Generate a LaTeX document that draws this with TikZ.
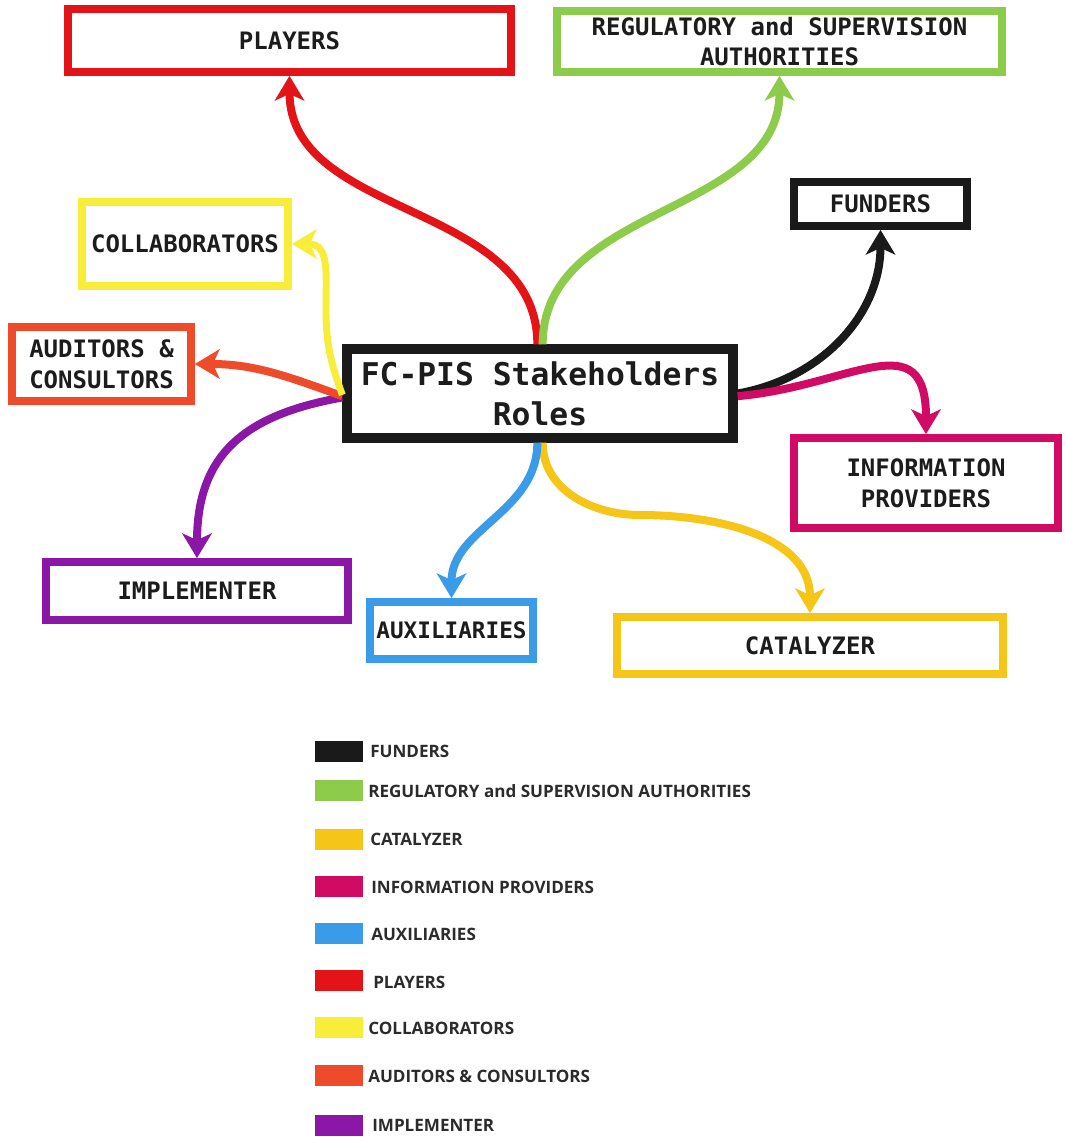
\documentclass[tikz,border=0pt]{standalone}
\usepackage{fontspec}
\setmainfont{Open Sans}
\newfontfamily\boxfont{DejaVu Sans Mono}
\usetikzlibrary{arrows.meta}
\definecolor{cRed}{HTML}{E31317}
\definecolor{cGreen}{HTML}{8DCB4B}
\definecolor{cBlack}{HTML}{1A1A1A}
\definecolor{cMagenta}{HTML}{D10A64}
\definecolor{cBlue}{HTML}{3A9BE8}
\definecolor{cGold}{HTML}{F5C518}
\definecolor{cYellow}{HTML}{F8EE3A}
\definecolor{cOrange}{HTML}{EE4B2B}
\definecolor{cPurple}{HTML}{8B17A6}
\definecolor{textdark}{HTML}{1C1C1C}
\definecolor{legdark}{HTML}{2B2B2B}
\begin{document}
\begin{tikzpicture}[x=0.75pt,y=-0.75pt,
  rolebox/.style={draw=#1, line width=5.8pt, inner sep=0pt, align=center, text=textdark,
    font=\boxfont\bfseries\fontsize{18}{23}\selectfont},
  sz/.style 2 args={minimum width=#1*0.75pt, minimum height=#2*0.75pt},
  centerbox/.style={draw=cBlack, line width=7pt, inner sep=0pt, align=center, text=textdark,
    font=\boxfont\bfseries\fontsize{23.5}{30}\selectfont},
  link/.style={draw=#1, line width=6pt, -{Stealth[length=18.5pt,width=22pt,inset=5pt]}},
  swatch/.style={fill=#1, draw=none, minimum width=36pt, minimum height=15.75pt, inner sep=0pt},
  legtext/.style={anchor=west, inner sep=0pt, text=legdark, font=\bfseries\fontsize{12.8}{15}\selectfont}
]
\useasboundingbox (0,0) rectangle (1064,1137);

% role boxes
\node[rolebox=cRed, sz={443}{63}] (players) at (289.5,40.5) {PLAYERS};
\node[rolebox=cGreen, sz={445}{61}] (reg) at (779.5,41.5) {REGULATORY and SUPERVISION\\AUTHORITIES};
\node[rolebox=cBlack, sz={173}{44}] (funders) at (880.5,204) {FUNDERS};
\node[rolebox=cYellow, sz={206}{84}] (collab) at (185,244) {COLLABORATORS};
\node[rolebox=cOrange, sz={179}{74}] (aud) at (101.5,364) {AUDITORS \&\\CONSULTORS};
\node[centerbox, sz={386}{89}] (ctr) at (540,393.5) {FC-PIS Stakeholders\\Roles};
\node[rolebox=cMagenta, sz={264}{90}] (info) at (926,483) {INFORMATION\\PROVIDERS};
\node[rolebox=cPurple, sz={302}{58}] (impl) at (197,591) {IMPLEMENTER};
\node[rolebox=cBlue, sz={163}{57}, font=\boxfont\bfseries\fontsize{17}{22}\selectfont] (aux) at (451.5,630.5) {AUXILIARIES};
\node[rolebox=cGold, sz={386}{57}] (cat) at (810,645.5) {CATALYZER};

% connectors
\draw[link=cRed] ([xshift=-2pt]ctr.north) to[out=90,in=-90] (players.south);
\draw[link=cGreen] ([xshift=2pt]ctr.north) to[out=90,in=-90] (reg.south);
\draw[link=cBlack] (ctr.east) to[out=10,in=-90] (funders.south);
\draw[link=cMagenta] ([yshift=-2pt]ctr.east) to[out=5,in=90,looseness=1.5] (info.north);
\draw[link=cGold] ([xshift=2pt]ctr.south) to[out=-90,in=180] (640,515) to[out=0,in=90] (cat.north);
\draw[link=cBlue] ([xshift=-2pt]ctr.south) to[out=-90,in=90] (aux.north);
\draw[link=cPurple] ([yshift=-3pt]ctr.west) to[out=190,in=90,looseness=1.2] (impl.north);
\draw[link=cOrange] ([yshift=-2pt]ctr.west) to[out=160,in=0] (aud.east);
\draw[link=cYellow, line width=5.2pt] ([yshift=-1pt]ctr.west) to[out=110,in=-90] (326,310) to[out=90,in=0,looseness=1.3] (collab.east);

% legend
\node[swatch=cBlack] (s1) at (339,751) {};
\node[legtext] (t1) at (370,751) {FUNDERS};
\node[swatch=cGreen] (s2) at (339,790) {};
\node[legtext] (t2) at (368,791) {REGULATORY and SUPERVISION AUTHORITIES};
\node[swatch=cGold] (s3) at (339,839) {};
\node[legtext] (t3) at (370,839) {CATALYZER};
\node[swatch=cMagenta] (s4) at (339,886) {};
\node[legtext] (t4) at (371,887) {INFORMATION PROVIDERS};
\node[swatch=cBlue] (s5) at (339,933) {};
\node[legtext] (t5) at (371,934) {AUXILIARIES};
\node[swatch=cRed] (s6) at (339,980) {};
\node[legtext] (t6) at (373,982) {PLAYERS};
\node[swatch=cYellow] (s7) at (339,1027) {};
\node[legtext] (t7) at (368,1028) {COLLABORATORS};
\node[swatch=cOrange] (s8) at (339,1075) {};
\node[legtext] (t8) at (368,1076) {AUDITORS \& CONSULTORS};
\node[swatch=cPurple] (s9) at (339,1125) {};
\node[legtext] (t9) at (372,1125) {IMPLEMENTER};
\end{tikzpicture}
\end{document}
